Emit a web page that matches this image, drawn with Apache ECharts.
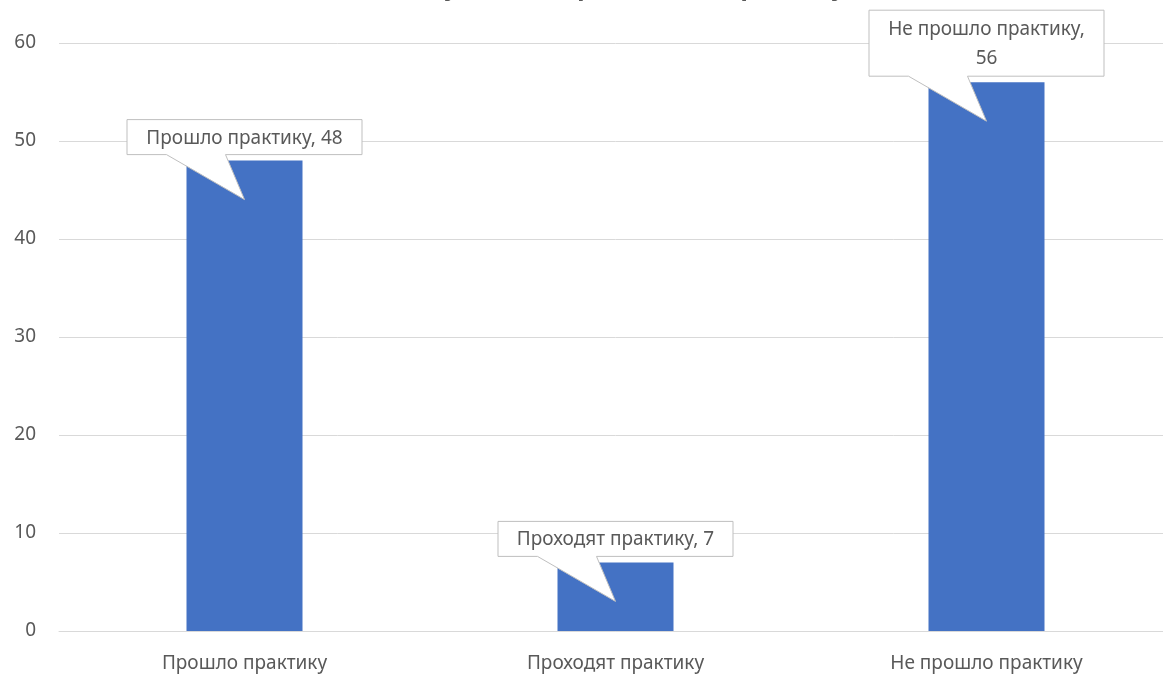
<!DOCTYPE html>
<html>
<head>
<meta charset="utf-8">
<script src="https://cdn.jsdelivr.net/npm/echarts@6/dist/echarts.min.js"></script>
<style>
html,body{margin:0;padding:0;background:#fff;overflow:hidden;width:1163px;height:676px;}
#main{width:1175px;height:676px;}
</style>
</head>
<body>
<div id="main"></div>
<script>
const titleText = 'Количество студентов, прошедших практику, чел.';
const categories = ['Прошло практику', 'Проходят практику', 'Не прошло практику'];
const values = [48, 7, 56];
const yTicks = [0, 10, 20, 30, 40, 50, 60];

const FONT = '"Noto Sans", sans-serif';
const FS = 19;
const TEXT_COLOR = '#595959';
const measureCtx = document.createElement('canvas').getContext('2d');
measureCtx.font = FS + 'px ' + FONT;
const MAXW = 220;

function wrapLines(text) {
  if (measureCtx.measureText(text).width <= MAXW) return [text];
  const words = text.split(' ');
  const lines = [];
  let cur = '';
  words.forEach(w => {
    const t = cur ? cur + ' ' + w : w;
    if (measureCtx.measureText(t).width > MAXW && cur) { lines.push(cur); cur = w; }
    else cur = t;
  });
  if (cur) lines.push(cur);
  return lines;
}

const chart = echarts.init(document.getElementById('main'), null, {renderer: 'canvas'});
chart.setOption({
  animation: false,
  backgroundColor: '#ffffff',
  title: {
    text: titleText,
    left: 581,
    textAlign: 'center',
    top: -30,
    textStyle: {fontFamily: FONT, fontSize: 25, fontWeight: 'bold', color: TEXT_COLOR}
  },
  grid: {left: 59, top: 43, bottom: 45, width: 1113, containLabel: false},
  xAxis: {
    type: 'category',
    data: categories,
    axisTick: {show: false},
    axisLine: {lineStyle: {color: '#d9d9d9', width: 1}},
    axisLabel: {color: TEXT_COLOR, fontFamily: FONT, fontSize: FS, margin: 23}
  },
  yAxis: {
    type: 'value',
    min: yTicks[0],
    max: yTicks[yTicks.length - 1],
    interval: yTicks[1] - yTicks[0],
    axisLine: {show: false},
    axisTick: {show: false},
    splitLine: {lineStyle: {color: '#d9d9d9', width: 1}},
    axisLabel: {color: TEXT_COLOR, fontFamily: FONT, fontSize: FS, margin: 23}
  },
  series: [
    {
      type: 'bar',
      data: values,
      barWidth: 116,
      itemStyle: {color: '#4472C4'},
      z: 2
    },
    {
      type: 'custom',
      data: values.map((v, i) => [i, v]),
      z: 10,
      renderItem: function (params, api) {
        const idx = api.value(0), v = api.value(1);
        const pt = api.coord([idx, v]);
        const tipX = pt[0], tipY = pt[1] + 39;
        const text = categories[idx] + ', ' + v;
        const lines = wrapLines(text);
        let tw = 0;
        lines.forEach(l => { tw = Math.max(tw, measureCtx.measureText(l).width); });
        const boxW = Math.max(tw + 22, 235);
        const boxH = lines.length === 1 ? 35 : 66;
        const cx = tipX;
        const B = tipY - 45, T = B - boxH;
        const L = cx - boxW / 2, R = cx + boxW / 2;
        const pts = [[L, T], [R, T], [R, B], [cx - 19, B], [tipX, tipY], [cx - 78, B], [L, B]];
        return {
          type: 'group',
          children: [
            {
              type: 'polygon',
              shape: {points: pts},
              style: {fill: '#ffffff', stroke: '#bfbfbf', lineWidth: 1}
            },
            {
              type: 'text',
              style: {
                x: cx, y: (T + B) / 2 + 1,
                text: lines.join('\n'),
                align: 'center', verticalAlign: 'middle',
                fill: TEXT_COLOR, font: FS + 'px ' + FONT,
                lineHeight: 29
              }
            }
          ]
        };
      }
    }
  ]
});
</script>
</body>
</html>
